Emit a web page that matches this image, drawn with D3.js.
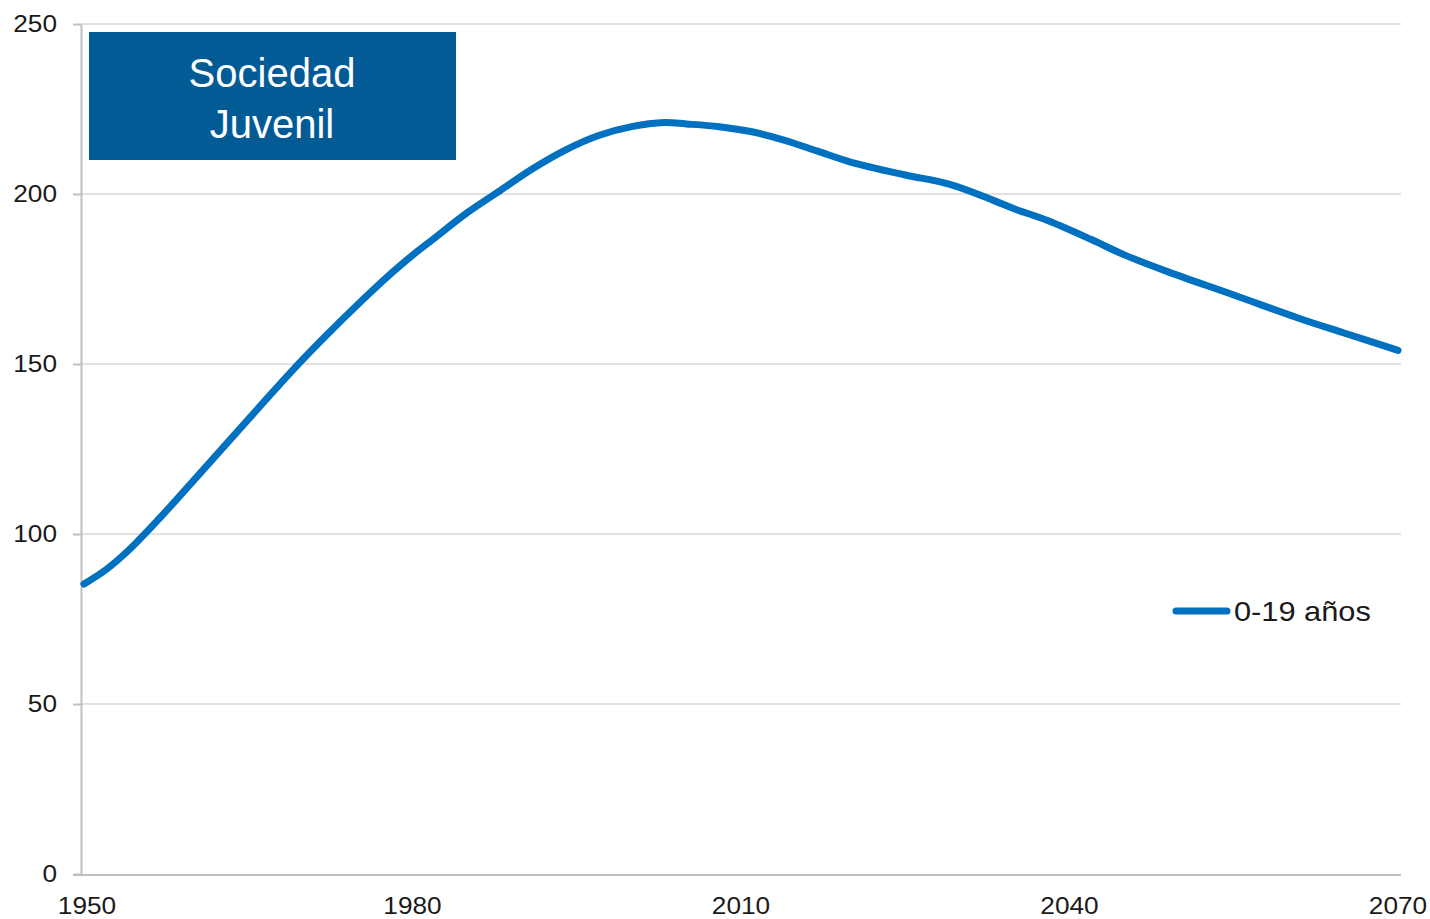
<!DOCTYPE html>
<html>
<head>
<meta charset="utf-8">
<script src="https://cdn.jsdelivr.net/npm/d3@7"></script>
<style>
    body { margin: 0; background: #fff; }
    svg { display: block; font-family: 'Liberation Sans', Arial, sans-serif; }
</style>
</head>
<body>
<svg width="1430" height="919"></svg>
<script>
// values (0-19 años)
const years = [1950, 1952, 1954, 1957, 1960, 1963, 1966, 1969, 1972, 1975, 1978, 1980,
    1982, 1985, 1988, 1991, 1994, 1997, 2000, 2003, 2005, 2008, 2011, 2014, 2017,
    2020, 2025, 2029, 2033, 2035, 2038, 2042, 2045, 2049, 2055, 2061, 2065, 2070];
const values = [85.3, 89.5, 95.0, 105.0, 115.7, 126.5, 137.3, 148.0, 158.0, 167.5, 176.5, 182.0,
    187.0, 194.5, 201.0, 207.5, 213.0, 217.2, 219.8, 221.0, 220.6, 219.8, 218.3, 215.8, 212.6,
    209.4, 205.6, 202.9, 198.2, 195.6, 192.2, 186.6, 182.1, 177.1, 170.3, 163.4, 159.2, 154.0];
const yTicks = [0, 50, 100, 150, 200, 250];
const xTicks = [1950, 1980, 2010, 2040, 2070];
const seriesName = '0-19 años';
const boxTitle = ['Sociedad', 'Juvenil'];

const svg = d3.select('svg');

// labels in the source are slightly wider than plain Arial
const stretch = 1.14;

const x = d3.scaleLinear()
    .domain([1950, 2070])
    .range([84, 1398]);

const y = d3.scaleLinear()
    .domain([0, 250])
    .range([874, 24]);

const left = 81;
const right = 1401;

// grid lines
svg.append('g')
    .attr('class', 'grid')
    .selectAll('line')
    .data(yTicks.filter(d => d > 0))
    .enter()
    .append('line')
    .attr('x1', left)
    .attr('x2', right)
    .attr('y1', d => y(d))
    .attr('y2', d => y(d))
    .style('stroke', '#d9d9d9')
    .style('stroke-width', 1.5);

// y axis (line + ticks from d3, labels drawn separately)
const yAxis = svg.append('g')
    .attr('transform', `translate(${left},0)`)
    .call(d3.axisLeft(y).tickValues(yTicks).tickSize(8).tickFormat('').tickSizeOuter(0));

yAxis.select('.domain')
    .style('stroke', '#bfbfbf')
    .style('stroke-width', 2);
yAxis.selectAll('.tick line')
    .style('stroke', '#bfbfbf')
    .style('stroke-width', 2);

svg.append('g')
    .selectAll('text')
    .data(yTicks)
    .enter()
    .append('text')
    .attr('transform', d => `translate(57,${y(d)}) scale(${stretch},1)`)
    .attr('dy', '0.36em')
    .attr('text-anchor', 'end')
    .style('font-size', '23px')
    .style('fill', '#1a1a1a')
    .text(d => d);

// x axis line
svg.append('line')
    .attr('x1', left - 8)
    .attr('x2', right)
    .attr('y1', y(0) + 1)
    .attr('y2', y(0) + 1)
    .style('stroke', '#bfbfbf')
    .style('stroke-width', 2);

svg.append('g')
    .selectAll('text')
    .data(xTicks)
    .enter()
    .append('text')
    .attr('transform', d => `translate(${d === 1950 ? x(d) + 3 : x(d)},914) scale(${stretch},1)`)
    .attr('text-anchor', 'middle')
    .style('font-size', '23px')
    .style('fill', '#1a1a1a')
    .text(d => d);

// title box
svg.append('rect')
    .attr('x', 89)
    .attr('y', 32)
    .attr('width', 367)
    .attr('height', 128)
    .style('fill', '#035b96');

svg.append('g')
    .selectAll('text')
    .data(boxTitle)
    .enter()
    .append('text')
    .attr('x', 272)
    .attr('y', (d, i) => 87 + i * 51)
    .attr('text-anchor', 'middle')
    .style('font-size', '40px')
    .style('fill', '#fff')
    .text(d => d);

// series line
const line = d3.line()
    .x((d, i) => x(years[i]))
    .y(d => y(d))
    .curve(d3.curveCatmullRom);

svg.append('path')
    .datum(values)
    .attr('d', line)
    .style('fill', 'none')
    .style('stroke', '#0070c0')
    .style('stroke-width', 7)
    .style('stroke-linecap', 'round')
    .style('stroke-linejoin', 'round');

// legend
svg.append('line')
    .attr('x1', 1176)
    .attr('x2', 1227)
    .attr('y1', 611)
    .attr('y2', 611)
    .style('stroke', '#0070c0')
    .style('stroke-width', 7)
    .style('stroke-linecap', 'round');

svg.append('text')
    .attr('transform', `translate(1234,621) scale(${stretch},1)`)
    .style('font-size', '27px')
    .style('fill', '#1a1a1a')
    .text(seriesName);
</script>
</body>
</html>
